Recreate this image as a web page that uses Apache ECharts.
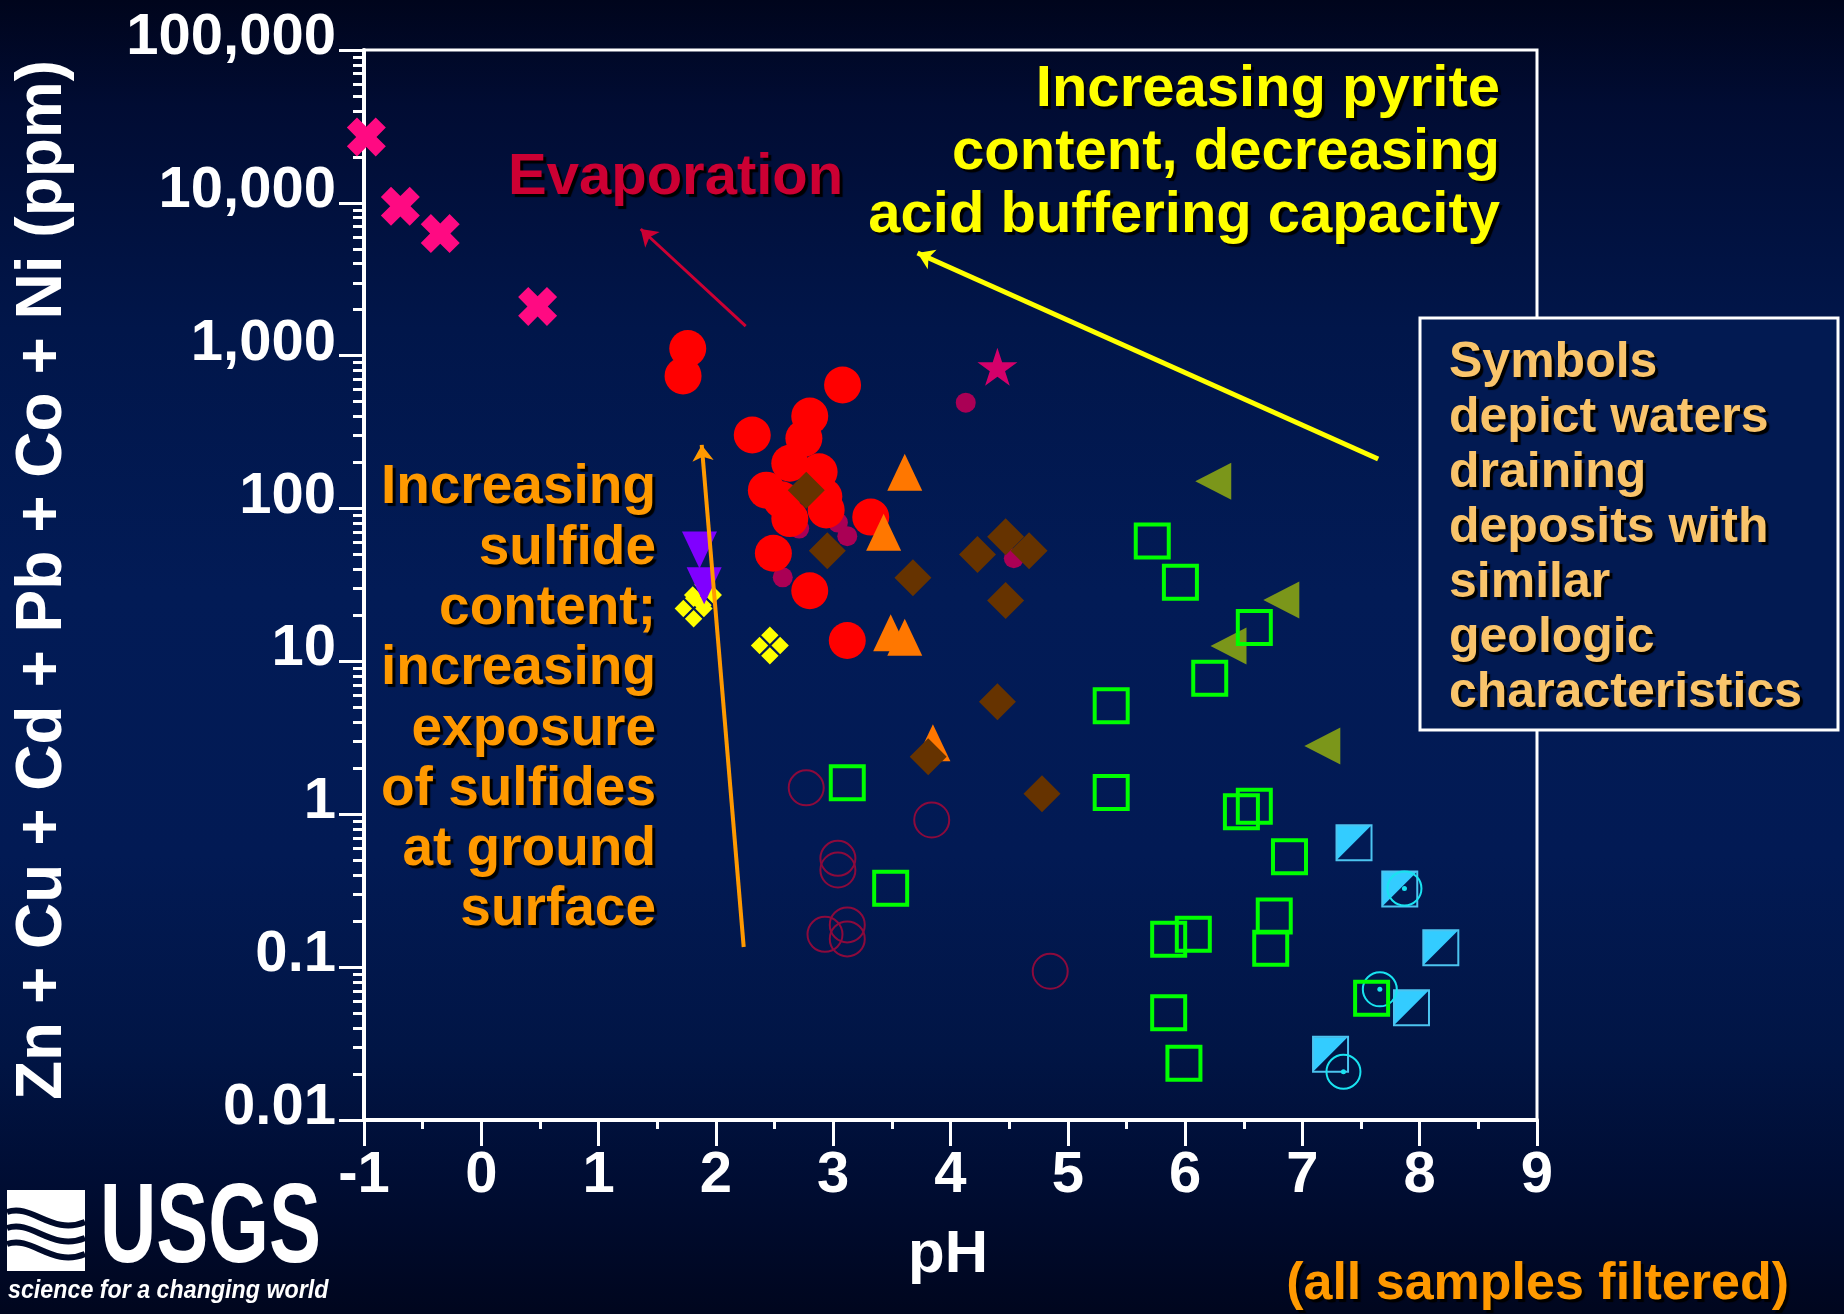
<!DOCTYPE html>
<html><head><meta charset="utf-8">
<script src="https://cdn.jsdelivr.net/npm/echarts@6/dist/echarts.min.js"></script>
<style>
html,body{margin:0;padding:0;width:1844px;height:1314px;overflow:hidden;
background:linear-gradient(to bottom,#00051c 0%,#010c33 8%,#01164a 25%,#021b56 45%,#021a54 65%,#011545 80%,#000d33 90%,#00061e 100%);}
#chart{width:1844px;height:1314px;}
</style></head><body><div id="chart"></div>
<script>
// ---- axis ticks ----
const xTickValues = [-1,0,1,2,3,4,5,6,7,8,9];
const yTickValues = [0.01,0.1,1,10,100,1000,10000,100000];
const yTickLabels = ['0.01','0.1','1','10','100','1,000','10,000','100,000'];

// ---- data: [pH, Zn+Cu+Cd+Pb+Co+Ni (ppm)] ----
const pinkX = [[-0.98,27000],[-0.69,9500],[-0.35,6300],[0.48,2100]];
const redCircles = [[1.76,1115],[1.72,738],[3.08,643],[2.80,403],[2.31,303],[2.75,288],[2.63,198],[2.88,174],[2.43,132],[2.56,114],[2.92,120],[2.63,86],[2.94,98],[3.32,88],[2.49,51],[2.80,29],[3.12,13.7]];
const orangeTriangles = [[3.61,173],[3.43,70],[3.49,15.4],[3.61,14.4],[3.85,2.94]];
const brownDiamonds = [[2.77,132],[2.95,53],[3.68,35.3],[4.23,50],[4.47,65.5],[4.67,53],[4.47,25],[4.40,5.45],[3.81,2.38],[4.78,1.36]];
const magentaDots = [[4.13,493],[2.71,74],[3.04,81],[3.12,66],[2.57,35.5],[4.54,47.3]];
const magentaStar = [[4.40,848]];
const purpleTriangles = [[1.86,53.6],[1.90,31.3]];
const yellowDiamonds = [[1.81,22.2],[1.89,27.2],[2.46,12.7]];
const darkRedCircles = [[2.77,1.49],[3.84,0.918],[3.04,0.515],[3.04,0.432],[2.93,0.164],[3.12,0.189],[3.12,0.153],[4.85,0.094]];
const greenSquares = [[3.12,1.61],[3.49,0.328],[5.72,61.4],[5.96,33],[6.59,16.7],[6.21,7.76],[5.37,5.13],[5.37,1.39],[6.48,1.04],[6.59,1.13],[6.89,0.528],[6.76,0.216],[6.73,0.133],[5.86,0.152],[6.07,0.164],[5.86,0.0504],[5.99,0.0235],[7.59,0.0625]];
const oliveTriangles = [[6.24,151],[6.82,25.2],[6.37,12.6],[7.17,2.80]];
const cyanHalfSquares = [[7.44,0.652],[7.83,0.325],[8.18,0.134],[7.93,0.0543],[7.24,0.0269]];
const cyanCircles = [[7.87,0.327],[7.66,0.0716],[7.35,0.0207]];

// ---- annotation arrows: [from, to] in data space ----
const evaporationArrow = [[2.254,1563],[1.359,6745]];
const pyriteArrow = [[7.646,211],[3.719,4700]];
const sulfideArrow = [[2.237,0.1355],[1.879,261]];

const FONT = "'Liberation Sans', Arial, Helvetica, sans-serif";
const SHADOW = {textShadowColor:'#000', textShadowBlur:1, textShadowOffsetX:3, textShadowOffsetY:3};

const SYM_X = 'path://M2.6,0 L5,2.4 L7.4,0 L10,2.6 L7.6,5 L10,7.4 L7.4,10 L5,7.6 L2.6,10 L0,7.4 L2.4,5 L0,2.6 Z';
const SYM_STAR = 'path://M10,0 L12.245,6.91 L19.511,6.91 L13.633,11.18 L15.878,18.09 L10,13.82 L4.122,18.09 L6.367,11.18 L0.489,6.91 L7.755,6.91 Z';
const SYM_LEFT = 'path://M0,5 L10,0 L10,10 Z';
const SYM_DOWN = 'path://M0,0 L10,0 L5,10 Z';
const SYM_QUAD = 'path://M5,0.2 L7.2,2.4 L5,4.6 L2.8,2.4 Z M7.6,2.8 L9.8,5 L7.6,7.2 L5.4,5 Z M5,5.4 L7.2,7.6 L5,9.8 L2.8,7.6 Z M2.4,2.8 L4.6,5 L2.4,7.2 L0.2,5 Z';
const SYM_HALF = 'path://M0,0 L10,0 L0,10 Z';

function sc(name, data, symbol, size, itemStyle, extra) {
  return Object.assign({
    name, type:'scatter', data, symbol, symbolSize:size,
    itemStyle:Object.assign({opacity:1}, itemStyle),
    silent:true, animation:false
  }, extra || {});
}
const clear = 'rgba(0,0,0,0)';

const series = [
  sc('darkRedCircles', darkRedCircles, 'circle', 35, {color:clear, borderColor:'#8c0a3c', borderWidth:2}),
  sc('magentaDots', magentaDots, 'circle', 20, {color:'#aa0055'}),
  sc('redCircles', redCircles, 'circle', 37, {color:'#ff0000'}),
  sc('orangeTriangles', orangeTriangles, 'triangle', [35,37], {color:'#ff7700'}),
  sc('brownDiamonds', brownDiamonds, 'diamond', 37, {color:'#663300'}),
  sc('magentaStar', magentaStar, SYM_STAR, [40,38], {color:'#d4006a'}),
  sc('yellowDiamonds', yellowDiamonds, SYM_QUAD, 38, {color:'#ffff00'}),
  sc('purpleTriangles', purpleTriangles, SYM_DOWN, [35,37], {color:'#8000ff'}),
  sc('oliveTriangles', oliveTriangles, SYM_LEFT, [36,37], {color:'#7b961a'}),
  sc('cyanHalfSquaresFill', cyanHalfSquares, SYM_HALF, 34, {color:'#33ccff'}),
  sc('cyanHalfSquares', cyanHalfSquares, 'rect', 35, {color:clear, borderColor:'#4cc4f0', borderWidth:2}),
  sc('cyanCircles', cyanCircles, 'circle', 34, {color:clear, borderColor:'#19e3f0', borderWidth:2}),
  sc('cyanCircleDots', cyanCircles, 'circle', 5, {color:'#19e3f0'}),
  sc('greenSquares', greenSquares, 'rect', 33, {color:clear, borderColor:'#00ff00', borderWidth:4}),
  sc('pinkX', pinkX, SYM_X, 39, {color:'#ff0a82'}),
  {
    name:'arrows', type:'line', data:[], silent:true, animation:false, z:5,
    markLine:{
      silent:true, animation:false, symbol:['none','arrow'], symbolSize:16,
      label:{show:false},
      data:[
        [{coord:evaporationArrow[0], lineStyle:{color:'#cc0033', width:3, type:'solid', opacity:1}, itemStyle:{color:'#cc0033'}}, {coord:evaporationArrow[1]}],
        [{coord:pyriteArrow[0], lineStyle:{color:'#ffff00', width:5, type:'solid', opacity:1}, itemStyle:{color:'#ffff00'}}, {coord:pyriteArrow[1]}],
        [{coord:sulfideArrow[0], lineStyle:{color:'#ff9900', width:4, type:'solid', opacity:1}, itemStyle:{color:'#ff9900'}}, {coord:sulfideArrow[1]}]
      ]
    }
  }
];

const chart = echarts.init(document.getElementById('chart'), null, {renderer:'canvas'});
chart.setOption({
  backgroundColor:'transparent',
  animation:false,
  grid:{left:364, right:307, top:50, bottom:194, show:true, borderColor:'#ffffff', borderWidth:3, backgroundColor:'transparent'},
  xAxis:{
    type:'value', min:xTickValues[0], max:xTickValues[xTickValues.length-1], interval:1,
    axisLine:{show:true, onZero:false, lineStyle:{color:'#ffffff', width:4}},
    axisTick:{show:true, length:26, lineStyle:{color:'#ffffff', width:3}},
    minorTick:{show:true, splitNumber:2, length:9, lineStyle:{color:'#ffffff', width:3}},
    splitLine:{show:false},
    axisLabel:{color:'#ffffff', fontSize:58, fontWeight:'bold', fontFamily:FONT, margin:27, lineHeight:58, showMinLabel:true, showMaxLabel:true}
  },
  yAxis:{
    type:'log', logBase:10, min:yTickValues[0], max:yTickValues[yTickValues.length-1], interval:1,
    axisLine:{show:true, onZero:false, lineStyle:{color:'#ffffff', width:4}},
    axisTick:{show:true, length:25, lineStyle:{color:'#ffffff', width:3}},
    minorTick:{show:true, splitNumber:9, length:11, lineStyle:{color:'#ffffff', width:3}},
    splitLine:{show:false},
    axisLabel:{
      color:'#ffffff', fontSize:58, fontWeight:'bold', fontFamily:FONT, margin:28,
      verticalAlign:'bottom', lineHeight:24, showMinLabel:true, showMaxLabel:true,
      formatter:function(v){ const i = Math.round(Math.log10(v)) + 2; return yTickLabels[i] || ''; }
    }
  },
  series:series,
  graphic:{elements:[
    {type:'text', x:43, y:580, rotation:Math.PI/2, z:100, silent:true,
      style:{text:'Zn + Cu + Cd + Pb + Co + Ni (ppm)', fill:'#ffffff', fontSize:64, fontWeight:'bold', fontFamily:FONT, align:'center', verticalAlign:'middle'}},
    {type:'text', x:948, y:1255, z:100, silent:true,
      style:{text:'pH', fill:'#ffffff', fontSize:60, fontWeight:'bold', fontFamily:FONT, align:'center', verticalAlign:'middle'}},
    {type:'text', x:508, y:178, z:100, silent:true,
      style:Object.assign({text:'Evaporation', fill:'#cc0033', fontSize:58, fontWeight:'bold', fontFamily:FONT, align:'left', verticalAlign:'middle'}, SHADOW)},
    {type:'text', x:1500, y:58, z:100, silent:true,
      style:Object.assign({text:'Increasing pyrite\ncontent, decreasing\nacid buffering capacity', fill:'#ffff00', fontSize:58, lineHeight:63, fontWeight:'bold', fontFamily:FONT, align:'right', verticalAlign:'top'}, SHADOW)},
    {type:'text', x:656, y:458, z:100, silent:true,
      style:Object.assign({text:'Increasing\nsulfide\ncontent;\nincreasing\nexposure\nof sulfides\nat ground\nsurface', fill:'#ff9900', fontSize:55, lineHeight:60.3, fontWeight:'bold', fontFamily:FONT, align:'right', verticalAlign:'top'}, SHADOW)},
    {type:'rect', z:100, silent:true, shape:{x:1420, y:318, width:418, height:412},
      style:{fill:'#021a52', stroke:'#ffffff', lineWidth:3}},
    {type:'text', x:1449, y:336, z:101, silent:true,
      style:Object.assign({text:'Symbols\ndepict waters\ndraining\ndeposits with\nsimilar\ngeologic\ncharacteristics', fill:'#f9c46b', fontSize:50, lineHeight:55, fontWeight:'bold', fontFamily:FONT, align:'left', verticalAlign:'top'}, SHADOW)},
    {type:'text', x:1789, y:1285, z:100, silent:true,
      style:Object.assign({text:'(all samples filtered)', fill:'#ff9900', fontSize:52, fontWeight:'bold', fontFamily:FONT, align:'right', verticalAlign:'middle'}, SHADOW)},
    // USGS logo
    {type:'rect', z:100, silent:true, shape:{x:7, y:1190, width:78, height:81}, style:{fill:'#ffffff'}},
    {type:'bezierCurve', z:101, silent:true, shape:{x1:7, y1:1212, cpx1:32, cpy1:1203, cpx2:52, cpy2:1236, x2:85, y2:1222}, style:{stroke:'#000a2a', lineWidth:6, fill:null}},
    {type:'bezierCurve', z:101, silent:true, shape:{x1:7, y1:1228, cpx1:32, cpy1:1219, cpx2:52, cpy2:1252, x2:85, y2:1238}, style:{stroke:'#000a2a', lineWidth:6, fill:null}},
    {type:'bezierCurve', z:101, silent:true, shape:{x1:7, y1:1244, cpx1:32, cpy1:1235, cpx2:52, cpy2:1268, x2:85, y2:1254}, style:{stroke:'#000a2a', lineWidth:6, fill:null}},
    {type:'text', x:100, y:1231, scaleX:0.69, z:100, silent:true,
      style:{text:'USGS', fill:'#ffffff', fontSize:113, fontWeight:'bold', fontFamily:FONT, align:'left', verticalAlign:'middle'}},
    {type:'text', x:8, y:1291, scaleX:0.93, z:100, silent:true,
      style:{text:'science for a changing world', fill:'#ffffff', fontSize:25, fontWeight:'bold', fontStyle:'italic', fontFamily:FONT, align:'left', verticalAlign:'middle'}}
  ]}
});
</script></body></html>
